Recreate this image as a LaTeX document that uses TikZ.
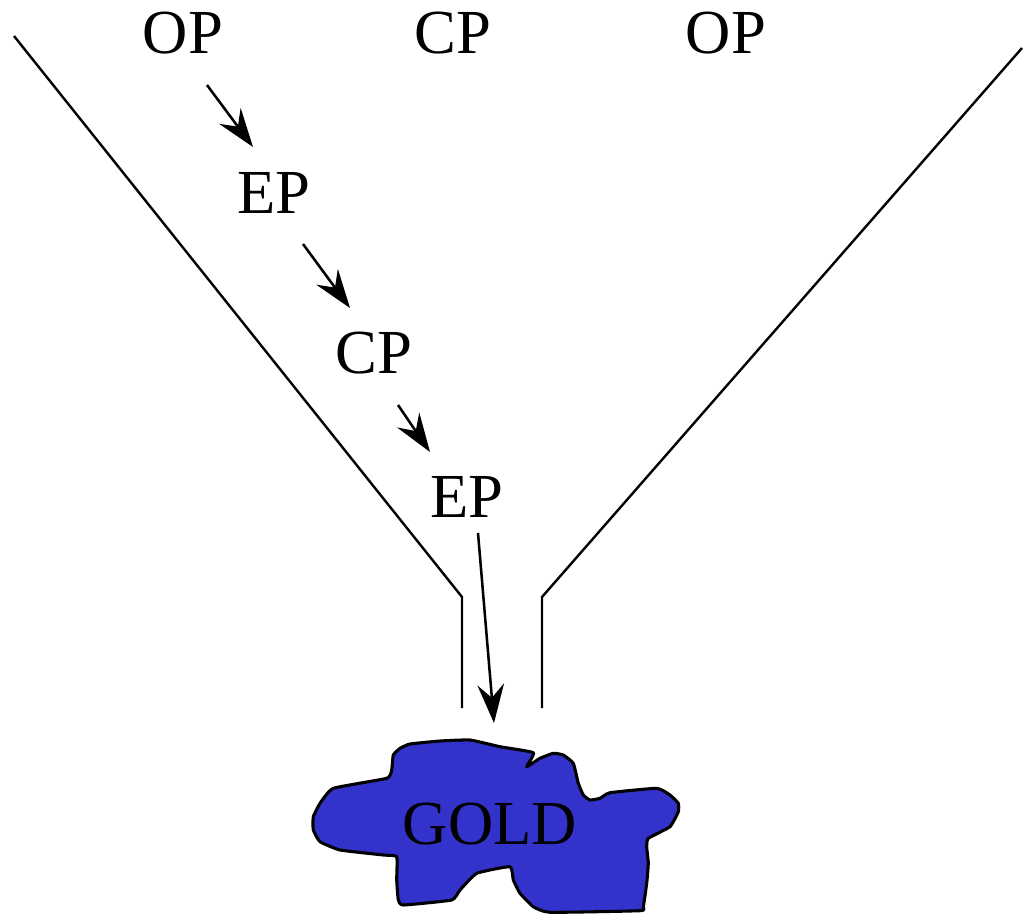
\documentclass[tikz,border=0pt]{standalone}
\usepackage{fontspec}
\setmainfont{Liberation Serif}
\usetikzlibrary{calc,arrows.meta}
\definecolor{goldfill}{RGB}{51,51,204}
\begin{document}
\begin{tikzpicture}[x=0.75pt,y=-0.75pt,
  lbl/.style={inner sep=0pt,anchor=base,font=\fontsize{47}{56}\selectfont},
  wall/.style={line width=1.8pt,line join=miter},
  flow/.style={line width=1.9pt,-{Stealth[length=29pt,width=20pt,inset=10pt]}},
  nugget/.style={line width=2.3pt,fill=goldfill,draw=black,line join=round}]
\useasboundingbox (0,0) rectangle (1025,914);

% funnel walls
\draw[wall] (14,36) -- (462,597) -- (462,708);
\draw[wall] (1022,48) -- (542,597) -- (542,708);

% gold nugget
\draw[nugget] plot[smooth cycle,tension=0.25] coordinates {
  (333.3,788.3) (386.7,778.3) (391.7,770) (393.3,755) (400,748.3) (410,744)
  (440,741) (470,740) (500,746.7) (533.3,752.7) (526.7,766.7) (540,758.3)
  (553.3,753.3) (563.3,755) (573.3,763.3) (578.3,783.3) (583.3,795) (590,800)
  (600,798.3) (610,792.7) (656.7,788.3) (670,795) (678.3,803.3) (678.3,811.7)
  (670,826.7) (648.3,838.3) (646.7,846.7) (648.3,863.3) (646.7,883.3)
  (643.3,906.7) (640,910.7) (550,912.3) (533.3,906.7) (520,893.3) (513.3,880)
  (510,866.7) (476.7,873.3) (460,890) (451.7,900) (403.3,905) (398.3,900)
  (396.7,880) (396.7,856.7) (383.3,855) (340,850) (320,841.7) (313.3,830)
  (313.3,816.7) (320,803.3)};

% labels
\node[lbl] (op1) at (183,53) {OP};
\node[lbl] (cp1) at (453,53) {CP};
\node[lbl] (op2) at (726,53) {OP};
\node[lbl] (ep1) at (274,213) {EP};
\node[lbl] (cp2) at (374,373) {CP};
\node[lbl] (ep2) at (467,517) {EP};
\node[lbl] (gold) at (490,844) {GOLD};

% pathway arrows
\draw[flow] ($(op1.base)+(24,32)$) -- ($(ep1.base)+(-21,-66)$);
\draw[flow] ($(ep1.base)+(29,31)$) -- ($(cp2.base)+(-24,-65)$);
\draw[flow] ($(cp2.base)+(24,32)$) -- ($(ep2.base)+(-37,-65)$);
\draw[flow] ($(ep2.base)+(11,16)$) -- ($(gold.base)+(4,-121)$);
\end{tikzpicture}
\end{document}
